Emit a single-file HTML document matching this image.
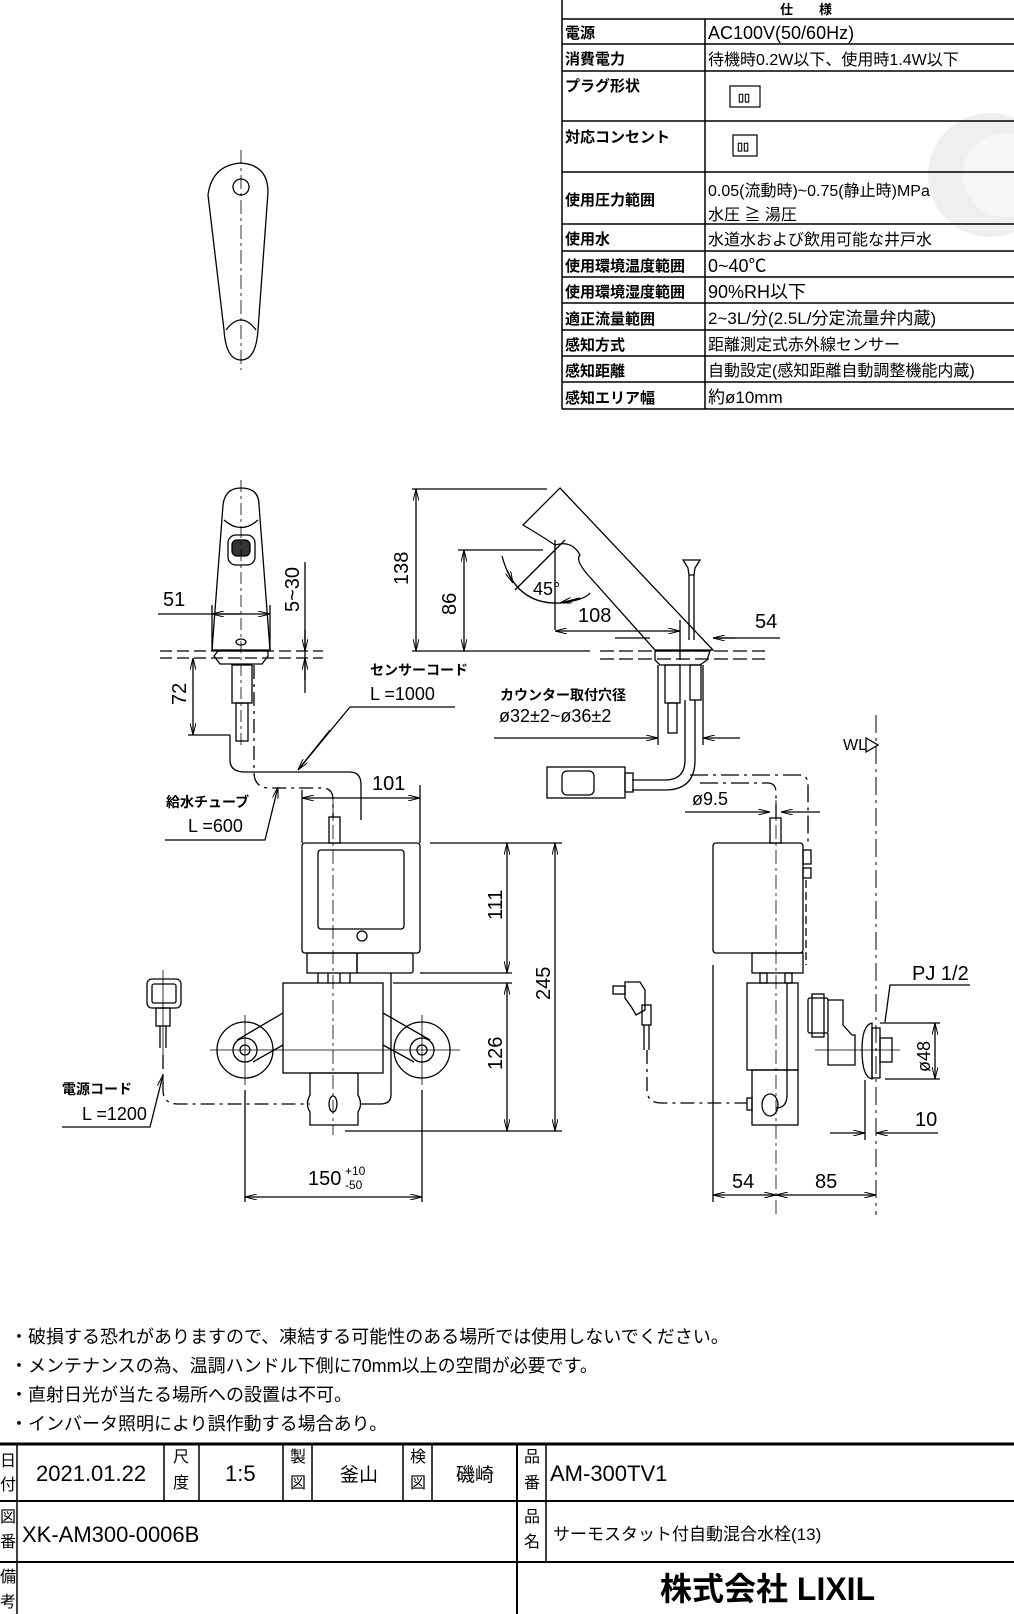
<!DOCTYPE html>
<html><head><meta charset="utf-8"><style>
html,body{margin:0;padding:0;background:#fff;}
svg{display:block;}
text{font-family:"Liberation Sans","Noto Sans CJK JP",sans-serif;fill:#000;}
</style></head><body>
<svg width="1014" height="1614" viewBox="0 0 1014 1614" xmlns="http://www.w3.org/2000/svg">
<defs>
<marker id="a" viewBox="0 0 12 6" refX="12" refY="3" markerWidth="12" markerHeight="6" markerUnits="userSpaceOnUse" orient="auto-start-reverse">
<path d="M0,0 L12,3 L0,6" fill="none" stroke="#000" stroke-width="1"/></marker>
</defs>
<rect width="1014" height="1614" fill="#fff"/>
<circle cx="990" cy="175" r="62" fill="#efefef"/>
<circle cx="1005" cy="175" r="42" fill="#f6f6f6"/>

<!-- spec table -->
<g stroke="#000" stroke-width="1.5" fill="none">
<line x1="562" y1="0" x2="562" y2="409"/>
<line x1="705" y1="19" x2="705" y2="409"/>
<line x1="562" y1="19" x2="1014" y2="19"/><line x1="562" y1="44" x2="1014" y2="44"/>
<line x1="562" y1="71" x2="1014" y2="71"/><line x1="562" y1="121" x2="1014" y2="121"/>
<line x1="562" y1="172" x2="1014" y2="172"/><line x1="562" y1="224" x2="1014" y2="224"/>
<line x1="562" y1="251" x2="1014" y2="251"/><line x1="562" y1="277" x2="1014" y2="277"/>
<line x1="562" y1="303" x2="1014" y2="303"/><line x1="562" y1="330" x2="1014" y2="330"/>
<line x1="562" y1="356" x2="1014" y2="356"/><line x1="562" y1="382" x2="1014" y2="382"/>
<line x1="562" y1="409" x2="1014" y2="409"/>
<rect x="730" y="86" width="30" height="21" stroke-width="1.2"/>
<rect x="733" y="135" width="24" height="21" stroke-width="1.2"/>
</g>
<g font-size="11" font-weight="bold"><text x="738" y="101">▯▯</text><text x="737" y="150">▯▯</text></g>
<g font-size="15" font-weight="bold">
<text x="780" y="14" font-size="13">仕　　様</text>
<text x="565" y="38">電源</text><text x="565" y="64">消費電力</text>
<text x="565" y="91">プラグ形状</text><text x="565" y="142">対応コンセント</text>
<text x="565" y="205">使用圧力範囲</text><text x="565" y="244">使用水</text>
<text x="565" y="271">使用環境温度範囲</text><text x="565" y="297">使用環境湿度範囲</text>
<text x="565" y="324">適正流量範囲</text><text x="565" y="350">感知方式</text>
<text x="565" y="376">感知距離</text><text x="565" y="403">感知エリア幅</text>
</g>
<g font-size="16">
<text x="708" y="39" font-size="18">AC100V(50/60Hz)</text>
<text x="708" y="65">待機時0.2W以下、使用時1.4W以下</text>
<text x="708" y="196">0.05(流動時)~0.75(静止時)MPa</text>
<text x="708" y="220">水圧 ≧ 湯圧</text>
<text x="708" y="245">水道水および飲用可能な井戸水</text>
<text x="708" y="272" font-size="18">0~40℃</text>
<text x="708" y="298" font-size="18">90%RH以下</text>
<text x="708" y="324" font-size="17">2~3L/分(2.5L/分定流量弁内蔵)</text>
<text x="708" y="350">距離測定式赤外線センサー</text>
<text x="708" y="376">自動設定(感知距離自動調整機能内蔵)</text>
<text x="708" y="403" font-size="17">約ø10mm</text>
</g>

<g stroke="#000" stroke-width="1.3" fill="none">
<!-- top-left handle -->
<path d="M208,195 Q212,165 241,163 Q268,165 268,192 L258,330 Q256,360 241,360 Q226,360 224,330 Z"/>
<circle cx="241" cy="187" r="8"/>
<path d="M226,330 Q241,310 256,330" />
<line x1="241" y1="150" x2="241" y2="370" stroke-dasharray="14,4,3,4" stroke-width="0.8"/>

<!-- front view faucet -->
<path d="M223,505 Q225,488 241,488 Q259,488 259,505 L270,650 L212,650 Z"/>
<path d="M224,520 Q241,535 258,520"/>
<rect x="228" y="535" width="27" height="30" rx="8"/>
<rect x="232" y="540" width="18" height="16" rx="5" fill="#333"/>
<ellipse cx="241" cy="642" rx="5" ry="3"/>
<line x1="241" y1="480" x2="241" y2="745" stroke-dasharray="12,4,3,4" stroke-width="0.8"/>
<path d="M218,651 L268,651 L268,656 L262,664 L220,664 L214,656 Z"/>
<rect x="232" y="665" width="20" height="38"/>
<rect x="236" y="703" width="12" height="38"/>
<line x1="160" y1="651" x2="323" y2="651" stroke-dasharray="12,5"/>
<line x1="160" y1="658" x2="323" y2="658" stroke-dasharray="12,5"/>
<line x1="158" y1="614" x2="270" y2="614" marker-end="url(#a)"/>
<line x1="212" y1="614" x2="240" y2="614" marker-start="url(#a)"/>
<line x1="212" y1="605" x2="212" y2="650"/><line x1="270" y1="605" x2="270" y2="650"/>
<line x1="305" y1="562" x2="305" y2="693"/>
<line x1="305" y1="630" x2="305" y2="651" marker-end="url(#a)"/>
<line x1="305" y1="680" x2="305" y2="658" marker-end="url(#a)"/>
<line x1="193" y1="658" x2="193" y2="735" marker-start="url(#a)" marker-end="url(#a)"/>
<line x1="188" y1="735" x2="230" y2="735"/>
<path d="M230,735 L230,760 Q230,772 245,772 L350,772 Q361,772 361,785 L361,820" />
<path d="M254,665 L254,772 Q254,788 270,788 L322,788 Q333,788 333,800 L333,818" stroke-dasharray="14,5,3,5"/>
<polyline points="455,707 350,707 298,770"/>
<line x1="330" y1="730" x2="298" y2="770" marker-end="url(#a)"/>
<polyline points="165,840 265,840 278,787" marker-end="url(#a)"/>
<line x1="302" y1="798" x2="420" y2="798" marker-start="url(#a)" marker-end="url(#a)"/>
<line x1="302" y1="790" x2="302" y2="843"/><line x1="420" y1="785" x2="420" y2="843"/>

<!-- bottom-left unit -->
<rect x="329" y="817" width="11" height="26"/>
<rect x="302" y="843" width="118" height="110" rx="3"/>
<rect x="318" y="850" width="86" height="79" rx="3"/>
<circle cx="362" cy="936" r="5"/>
<rect x="307" y="953" width="50" height="20"/><rect x="357" y="953" width="56" height="20" rx="2"/>
<line x1="318" y1="973" x2="318" y2="983"/><line x1="328" y1="973" x2="328" y2="983"/><line x1="340" y1="973" x2="340" y2="983"/><line x1="350" y1="973" x2="350" y2="983"/>
<rect x="283" y="983" width="100" height="90"/>
<circle cx="245" cy="1050" r="28"/><circle cx="245" cy="1050" r="12"/><circle cx="245" cy="1050" r="5"/>
<circle cx="422" cy="1050" r="28"/><circle cx="422" cy="1050" r="12"/><circle cx="422" cy="1050" r="5"/>
<path d="M237,1040 L283,1013 M253,1062 L283,1045 M430,1040 L383,1013 M414,1062 L383,1045"/>
<line x1="210" y1="1050" x2="460" y2="1050" stroke-width="0.8"/>
<line x1="245" y1="1015" x2="245" y2="1085" stroke-width="0.8"/><line x1="422" y1="1015" x2="422" y2="1085" stroke-width="0.8"/>
<path d="M310,1073 L358,1073 L358,1095 Q363,1104 358,1112 L358,1125 L310,1125 L310,1112 Q305,1104 310,1095 Z"/>
<ellipse cx="333" cy="1104" rx="4" ry="8"/>
<line x1="333" y1="800" x2="333" y2="1135" stroke-dasharray="14,4,3,4" stroke-width="0.8"/>
<path d="M391,973 L391,1095 Q391,1104 380,1104 L360,1104"/>
<line x1="430" y1="843" x2="562" y2="843"/><line x1="420" y1="973" x2="512" y2="973"/>
<line x1="393" y1="983" x2="512" y2="983"/><line x1="345" y1="1131" x2="562" y2="1131"/>
<line x1="507" y1="843" x2="507" y2="973" marker-start="url(#a)" marker-end="url(#a)"/>
<line x1="507" y1="983" x2="507" y2="1131" marker-start="url(#a)" marker-end="url(#a)"/>
<line x1="555" y1="843" x2="555" y2="1131" marker-start="url(#a)" marker-end="url(#a)"/>
<line x1="245" y1="1090" x2="245" y2="1202"/><line x1="422" y1="1090" x2="422" y2="1202"/>
<line x1="245" y1="1197" x2="422" y2="1197" marker-start="url(#a)" marker-end="url(#a)"/>
<rect x="147" y="979" width="34" height="29" rx="5"/><rect x="152" y="984" width="24" height="19" rx="2"/>
<rect x="156" y="1008" width="14" height="18"/>
<line x1="160" y1="1026" x2="160" y2="1048"/><line x1="166" y1="1026" x2="166" y2="1048"/>
<line x1="163" y1="970" x2="163" y2="1060" stroke-width="0.8"/>
<path d="M163,1055 L163,1090 Q163,1104 178,1104 L310,1104" stroke-dasharray="14,5,3,5"/>
<polyline points="62,1127 150,1127 163,1075" marker-end="url(#a)"/>

<!-- side view spout -->
<line x1="412" y1="489" x2="547" y2="489"/><line x1="458" y1="550" x2="543" y2="550"/>
<line x1="412" y1="651" x2="590" y2="651"/>
<line x1="416" y1="489" x2="416" y2="651" marker-start="url(#a)" marker-end="url(#a)"/>
<line x1="464" y1="550" x2="464" y2="651" marker-start="url(#a)" marker-end="url(#a)"/>
<path d="M560,488 L713,650 L655,650 L588,575 Q575,560 580,555 Q572,540 555,545 Q540,535 523,525 Z"/>
<line x1="555" y1="540" x2="555" y2="630"/>
<line x1="515" y1="590" x2="565" y2="540"/>
<path d="M502,556 Q515,605 560,603 Q585,600 590,593" />
<line x1="507" y1="570" x2="513" y2="583" marker-end="url(#a)"/>
<line x1="580" y1="598" x2="560" y2="603" marker-end="url(#a)"/>
<line x1="555" y1="631" x2="680" y2="631" marker-start="url(#a)" marker-end="url(#a)"/>
<line x1="680" y1="620" x2="680" y2="660"/>
<line x1="615" y1="638" x2="650" y2="638"/>
<line x1="713" y1="638" x2="780" y2="638"/>
<line x1="735" y1="638" x2="713" y2="638" marker-end="url(#a)"/>
<path d="M683,560 L700,560 L695,568 L694,575 L689,575 L688,568 Z"/>
<line x1="689" y1="575" x2="689" y2="640"/><line x1="694" y1="575" x2="694" y2="640"/>
<line x1="600" y1="651" x2="765" y2="651" stroke-dasharray="14,5"/>
<line x1="600" y1="659" x2="765" y2="659" stroke-dasharray="14,5"/>
<path d="M655,651 L710,651 L707,660 L700,665 L660,665 L655,660 Z"/>
<rect x="665" y="665" width="15" height="38"/><rect x="668" y="703" width="9" height="30"/>
<rect x="690" y="665" width="11" height="35"/>
<line x1="658" y1="665" x2="658" y2="745"/><line x1="703" y1="665" x2="703" y2="745"/>
<line x1="494" y1="738" x2="658" y2="738" marker-end="url(#a)"/>
<line x1="740" y1="738" x2="703" y2="738" marker-end="url(#a)"/>
<path d="M685,700 L685,760 Q685,780 665,780 L632,780"/>
<path d="M695,700 L695,760 Q695,790 665,790 L632,790"/>
<rect x="547" y="767" width="78" height="31"/>
<rect x="562" y="771" width="32" height="24" rx="5"/>
<rect x="625" y="773" width="8" height="19"/>
<path d="M690,775 L800,775 Q808,775 808,785 L808,845" stroke-dasharray="18,5,3,5"/>
<path d="M700,783 L768,783 Q776,783 776,793 L776,818" stroke-dasharray="18,5,3,5"/>
<line x1="685" y1="812" x2="770" y2="812" marker-end="url(#a)"/>
<line x1="820" y1="812" x2="781" y2="812" marker-end="url(#a)"/>
<path d="M866,738 L866,752 L878,745 Z"/>
<line x1="876" y1="715" x2="876" y2="1215" stroke-dasharray="18,5,3,5" stroke-width="1"/>

<!-- right side unit -->
<rect x="770" y="818" width="11" height="25"/>
<rect x="713" y="843" width="90" height="110" rx="3"/>
<rect x="803" y="850" width="8" height="14"/><rect x="803" y="868" width="8" height="10"/>
<line x1="806" y1="880" x2="806" y2="965" stroke-dasharray="8,4"/>
<rect x="752" y="953" width="51" height="20"/>
<rect x="760" y="973" width="7" height="10"/><rect x="785" y="973" width="7" height="10"/>
<rect x="747" y="983" width="51" height="87"/>
<rect x="752" y="1070" width="46" height="55"/>
<ellipse cx="770" cy="1105" rx="8" ry="11"/>
<rect x="747" y="1098" width="5" height="12"/>
<line x1="776" y1="800" x2="776" y2="1215" stroke-dasharray="14,4,3,4" stroke-width="0.8"/>
<path d="M787,983 L787,1095 Q787,1108 776,1108"/>
<rect x="808" y="998" width="20" height="35" rx="2"/>
<rect x="812" y="994" width="12" height="43"/>
<path d="M828,1000 L843,1000 L843,1025 L852,1035 L855,1035 L855,1065 L828,1065 L828,1033"/>
<path d="M872,1023 Q862,1025 862,1050 Q862,1077 872,1079 Z"/>
<rect x="872" y="1028" width="8" height="50"/>
<rect x="880" y="1038" width="12" height="24"/>
<line x1="815" y1="1050" x2="900" y2="1050" stroke-width="0.8"/>
<line x1="880" y1="1023" x2="940" y2="1023"/><line x1="885" y1="1079" x2="940" y2="1079"/>
<line x1="935" y1="1023" x2="935" y2="1079" marker-start="url(#a)" marker-end="url(#a)"/>
<polyline points="970,985 890,985 885,1022"/>
<line x1="865" y1="1080" x2="865" y2="1140"/>
<line x1="830" y1="1133" x2="865" y2="1133" marker-end="url(#a)"/>
<line x1="938" y1="1133" x2="876" y2="1133" marker-end="url(#a)"/>
<line x1="713" y1="965" x2="713" y2="1202"/>
<line x1="713" y1="1195" x2="776" y2="1195" marker-start="url(#a)" marker-end="url(#a)"/>
<line x1="776" y1="1195" x2="876" y2="1195" marker-start="url(#a)" marker-end="url(#a)"/>
<rect x="613" y="986" width="12" height="8"/>
<path d="M625,982 L640,982 L645,990 L645,1010 L636,1015 L632,1008 L625,998 Z"/>
<rect x="642" y="1005" width="9" height="20"/>
<line x1="644" y1="1025" x2="644" y2="1050"/><line x1="649" y1="1025" x2="649" y2="1050"/>
<path d="M647,1050 L647,1090 Q647,1103 662,1103 L747,1103" stroke-dasharray="14,5,3,5"/>
</g>

<g font-size="20">
<text x="163" y="606">51</text>
<text transform="translate(299,612) rotate(-90)">5~30</text>
<text transform="translate(186,705) rotate(-90)">72</text>
<text transform="translate(408,585) rotate(-90)">138</text>
<text transform="translate(456,615) rotate(-90)">86</text>
<text x="533" y="595" font-size="18">45°</text>
<text x="578" y="622">108</text>
<text x="755" y="628">54</text>
<text x="372" y="790">101</text>
<text transform="translate(502,920) rotate(-90)">111</text>
<text transform="translate(502,1070) rotate(-90)">126</text>
<text transform="translate(550,1000) rotate(-90)">245</text>
<text x="308" y="1185">150</text>
<text x="345" y="1175" font-size="12">+10</text><text x="345" y="1189" font-size="12">-50</text>
<text x="692" y="805" font-size="18">ø9.5</text>
<text x="912" y="980">PJ 1/2</text>
<text transform="translate(930,1072) rotate(-90)" font-size="18">ø48</text>
<text x="915" y="1126">10</text>
<text x="732" y="1188">54</text>
<text x="815" y="1188">85</text>
<text x="370" y="700" font-size="18">L =1000</text>
<text x="188" y="832" font-size="18">L =600</text>
<text x="82" y="1120" font-size="18">L =1200</text>
<text x="499" y="722" font-size="18">ø32±2~ø36±2</text>
<text x="843" y="750" font-size="16">WL</text>
</g>
<g font-size="14" font-weight="bold">
<text x="370" y="675">センサーコード</text>
<text x="166" y="807">給水チューブ</text>
<text x="62" y="1094">電源コード</text>
<text x="500" y="700">カウンター取付穴径</text>
</g>

<g font-size="18">
<text x="10" y="1343">・破損する恐れがありますので、凍結する可能性のある場所では使用しないでください。</text>
<text x="10" y="1372">・メンテナンスの為、温調ハンドル下側に70mm以上の空間が必要です。</text>
<text x="10" y="1401">・直射日光が当たる場所への設置は不可。</text>
<text x="10" y="1430">・インバータ照明により誤作動する場合あり。</text>
</g>

<g stroke="#000" fill="none">
<line x1="0" y1="1444" x2="1014" y2="1444" stroke-width="3"/>
<line x1="0" y1="1501" x2="1014" y2="1501" stroke-width="2"/>
<line x1="0" y1="1562" x2="1014" y2="1562" stroke-width="2"/>
<line x1="17" y1="1444" x2="17" y2="1614" stroke-width="1.5"/>
<line x1="164" y1="1444" x2="164" y2="1501" stroke-width="1.5"/>
<line x1="199" y1="1444" x2="199" y2="1501" stroke-width="1.5"/>
<line x1="283" y1="1444" x2="283" y2="1501" stroke-width="1.5"/>
<line x1="312" y1="1444" x2="312" y2="1501" stroke-width="1.5"/>
<line x1="403" y1="1444" x2="403" y2="1501" stroke-width="1.5"/>
<line x1="432" y1="1444" x2="432" y2="1501" stroke-width="1.5"/>
<line x1="517" y1="1444" x2="517" y2="1614" stroke-width="2"/>
<line x1="546" y1="1444" x2="546" y2="1562" stroke-width="1.5"/>
</g>
<g font-size="16">
<text x="0" y="1466">日</text><text x="0" y="1490">付</text>
<text x="0" y="1522">図</text><text x="0" y="1547">番</text>
<text x="0" y="1582">備</text><text x="0" y="1607">考</text>
<text x="173" y="1462">尺</text><text x="173" y="1488">度</text>
<text x="290" y="1462">製</text><text x="290" y="1488">図</text>
<text x="410" y="1462">検</text><text x="410" y="1488">図</text>
<text x="524" y="1462">品</text><text x="524" y="1488">番</text>
<text x="524" y="1522">品</text><text x="524" y="1547">名</text>
</g>
<g font-size="22">
<text x="36" y="1481">2021.01.22</text>
<text x="225" y="1481">1:5</text>
<text x="340" y="1481" font-size="19">釜山</text>
<text x="456" y="1481" font-size="19">磯崎</text>
<text x="550" y="1481">AM-300TV1</text>
<text x="22" y="1542">XK-AM300-0006B</text>
<text x="553" y="1540" font-size="17">サーモスタット付自動混合水栓(13)</text>
</g>
<text x="660" y="1600" font-size="32" font-weight="bold">株式会社 LIXIL</text>
</svg>
</body></html>
